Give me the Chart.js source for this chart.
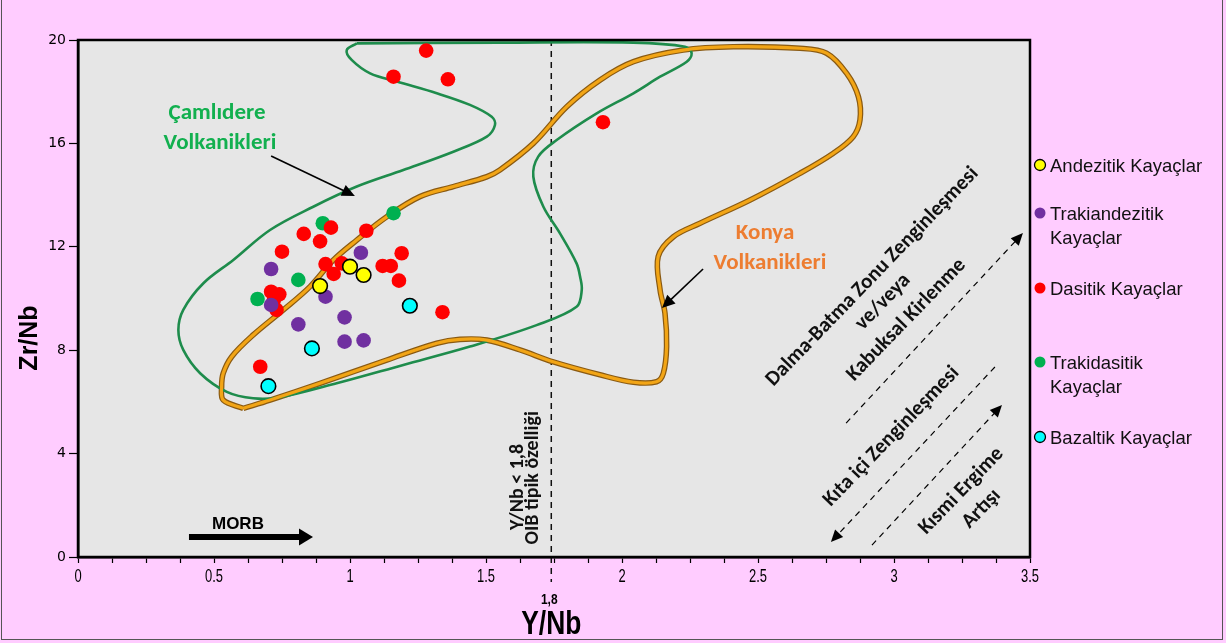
<!DOCTYPE html>
<html><head><meta charset="utf-8">
<style>
html,body{margin:0;padding:0;background:#FFCCFF;}
#wrap{position:relative;width:1226px;height:643px;overflow:hidden;}
#frame{position:absolute;left:1px;top:-3px;width:1222px;height:643px;border:1.5px solid #555;box-sizing:border-box;pointer-events:none;}
canvas{display:block;}
</style>
<script src="https://cdn.jsdelivr.net/npm/chart.js"></script>
</head><body>
<div id="wrap"><canvas id="c" width="1226" height="643"></canvas><div id="frame"></div></div>
<script>
// ---------------- DATA ----------------
const seriesNames = ['Andezitik Kayaçlar','Trakiandezitik Kayaçlar','Dasitik Kayaçlar','Trakidasitik Kayaçlar','Bazaltik Kayaçlar'];
const andezitikX = [1.00, 1.05, 0.89];
const andezitikY = [11.23, 10.91, 10.48];
const trakiandezitikX = [0.71, 1.04, 0.91, 0.98, 0.81, 0.98, 1.05, 0.71];
const trakiandezitikY = [11.14, 11.77, 10.07, 9.27, 9.00, 8.33, 8.38, 9.75];
const dasitikX = [0.93, 0.83, 0.89, 1.06, 0.75, 1.19, 0.91, 0.97, 0.94, 1.12, 1.15, 1.18, 0.71, 0.74, 0.72, 0.73, 1.34, 0.67, 1.28, 1.16, 1.36, 1.93];
const dasitikY = [12.74, 12.50, 12.21, 12.62, 11.81, 11.75, 11.33, 11.36, 10.95, 11.26, 11.26, 10.69, 10.26, 10.16, 9.94, 9.56, 9.47, 7.36, 19.59, 18.58, 18.48, 16.82];
const trakidasitikX = [0.90, 1.16, 0.81, 0.66];
const trakidasitikY = [12.91, 13.30, 10.72, 9.98];
const bazaltikX = [1.22, 0.86, 0.70];
const bazaltikY = [9.72, 8.07, 6.61];

// Çamlıdere Volkanikleri field outline
const camlidereX = [1.025,0.988,1.006,1.074,1.172,1.319,1.441,1.521,1.533,1.503,1.380,1.196,1.025,0.865,0.706,0.571,0.461,0.387,0.369,0.387,0.449,0.547,0.644,0.743,0.951,1.196,1.441,1.686,1.833,1.852,1.846,1.833,1.772,1.711,1.674,1.692,1.760,1.907,2.042,2.140,2.238,2.256,2.232,2.042,1.551,1.025];
const camlidereY = [19.87,19.61,19.23,18.71,18.39,17.94,17.49,17.03,16.71,16.26,15.68,14.97,14.33,13.55,12.65,11.49,10.59,9.56,8.78,8.01,7.11,6.39,6.14,6.18,6.72,7.43,8.14,8.97,9.68,10.33,10.84,11.36,12.52,13.55,14.71,15.49,16.13,17.16,17.94,18.58,19.16,19.49,19.74,19.90,19.90,19.87];
// Konya Volkanikleri field outline
const konyaX = [0.608,0.706,0.890,1.135,1.319,1.404,1.503,1.625,1.747,1.919,2.042,2.127,2.152,2.164,2.158,2.140,2.133,2.189,2.287,2.471,2.654,2.777,2.850,2.875,2.869,2.826,2.752,2.654,2.409,2.225,2.042,1.919,1.797,1.674,1.551,1.503,1.380,1.257,1.135,1.025,0.939,0.853,0.755,0.644,0.565,0.534,0.528,0.534,0.608];
const konyaY = [5.75,6.07,6.72,7.62,8.27,8.42,8.39,8.01,7.55,7.05,6.76,6.78,7.11,8.14,9.43,10.33,11.62,12.39,12.91,13.81,14.84,15.62,16.26,16.91,17.81,18.71,19.49,19.68,19.74,19.61,19.16,18.45,17.42,16.00,14.97,14.71,14.33,13.94,13.16,12.26,11.49,10.46,9.56,8.59,7.75,7.11,6.59,6.07,5.75];

const xTickLabels = ['0','0.5','1','1.5','2','2.5','3','3.5'];
const yTickLabels = ['0','4','8','12','16','20'];
const oibLimit = 1.74;      // dashed Y/Nb limit line (labelled "1,8")
const oibLimitLabel = '1,8';

// ---------------- helpers ----------------
const pts = (xs, ys) => xs.map((x, i) => ({x, y: ys[i]}));
const pointDs = (label, xs, ys, fill, border, order) => ({
  type:'scatter', label, data: pts(xs, ys), backgroundColor: fill,
  borderColor: border || fill, borderWidth: border ? 1.6 : 0,
  pointRadius: 7.3, pointHoverRadius: 7.3, order
});
const outlineDs = (label, xs, ys, color, width, order) => ({
  type:'scatter', label, data: pts(xs, ys), showLine: true, borderColor: color,
  borderWidth: width, pointRadius: 0, tension: 0.35, fill: false, order
});

const colors = ['#FFFF00','#7030A0','#FF0000','#00B050','#00FFFF'];
const borders = ['#000', null, null, null, '#000'];

const datasets = [
  pointDs(seriesNames[0], andezitikX, andezitikY, colors[0], borders[0], 0),
  pointDs(seriesNames[1], trakiandezitikX, trakiandezitikY, colors[1], null, 1),
  pointDs(seriesNames[2], dasitikX, dasitikY, colors[2], null, 1),
  pointDs(seriesNames[3], trakidasitikX, trakidasitikY, colors[3], null, 1),
  pointDs(seriesNames[4], bazaltikX, bazaltikY, colors[4], borders[4], 0),
  outlineDs('Çamlıdere Volkanikleri', camlidereX, camlidereY, '#1E8C4C', 2.6, 3),
  outlineDs('Konya Volkanikleri', konyaX, konyaY, '#F2A516', 3.2, 2),
  outlineDs('Konya Volkanikleri kenar', konyaX, konyaY, '#8A5A12', 5.6, 4)
];

// ---------------- annotations (layout) ----------------
const CAL = "Carlito, Lato, 'Liberation Sans', sans-serif";
const ARIAL = "'Liberation Sans', Arial, sans-serif";
const legendLayout = [
  {lines:['Andezitik Kayaçlar'], y:165},
  {lines:['Trakiandezitik','Kayaçlar'], y:213},
  {lines:['Dasitik Kayaçlar'], y:288},
  {lines:['Trakidasitik','Kayaçlar'], y:362},
  {lines:['Bazaltik Kayaçlar'], y:437}
];

function arrowHead(ctx, x1, y1, x2, y2, len, half) {
  const a = Math.atan2(y2 - y1, x2 - x1);
  ctx.beginPath();
  ctx.moveTo(x2, y2);
  ctx.lineTo(x2 - len*Math.cos(a) + half*Math.sin(a), y2 - len*Math.sin(a) - half*Math.cos(a));
  ctx.lineTo(x2 - len*Math.cos(a) - half*Math.sin(a), y2 - len*Math.sin(a) + half*Math.cos(a));
  ctx.closePath(); ctx.fill();
}
function arrow(ctx, x1, y1, x2, y2, opt) {
  const a = Math.atan2(y2 - y1, x2 - x1);
  ctx.save();
  ctx.strokeStyle = '#000'; ctx.fillStyle = '#000';
  ctx.lineWidth = opt.w; ctx.setLineDash(opt.dash || []);
  ctx.beginPath(); ctx.moveTo(x1, y1);
  ctx.lineTo(x2 - opt.len*0.8*Math.cos(a), y2 - opt.len*0.8*Math.sin(a)); ctx.stroke();
  ctx.setLineDash([]);
  arrowHead(ctx, x1, y1, x2, y2, opt.len, opt.half);
  ctx.restore();
}
function rotText(ctx, text, x, y, angleDeg, font, color, sx) {
  ctx.save(); ctx.translate(x, y); ctx.rotate(angleDeg*Math.PI/180);
  if (sx) ctx.scale(sx, 1);
  ctx.font = font; ctx.fillStyle = color; ctx.textAlign = 'center'; ctx.textBaseline = 'middle';
  ctx.fillText(text, 0, 0); ctx.restore();
}

const annot = {
  id: 'annot',
  beforeDraw(chart) {
    const {ctx, chartArea: a} = chart;
    ctx.save(); ctx.fillStyle = '#E6E6E6';
    ctx.fillRect(a.left, a.top, a.right - a.left, a.bottom - a.top); ctx.restore();
  },
  beforeDatasetsDraw(chart) {
    const {ctx, scales: {x, y}} = chart;
    const px = x.getPixelForValue(oibLimit);
    ctx.save(); ctx.strokeStyle = '#111'; ctx.lineWidth = 1.5; ctx.setLineDash([6, 5]);
    ctx.beginPath(); ctx.moveTo(px, y.getPixelForValue(20)); ctx.lineTo(px, y.getPixelForValue(-0.97)); ctx.stroke();
    ctx.restore();
  },
  afterDraw(chart) {
    const {ctx, chartArea: a, scales: {x, y}} = chart;
    const X = v => x.getPixelForValue(v), Y = v => y.getPixelForValue(v);
    // plot frame
    ctx.save(); ctx.strokeStyle = '#000'; ctx.lineWidth = 2.5;
    ctx.strokeRect(a.left, a.top, a.right - a.left, a.bottom - a.top); ctx.restore();

    // field labels
    ctx.save(); ctx.textAlign = 'center'; ctx.textBaseline = 'middle';
    ctx.font = 'bold 23px ' + CAL; ctx.fillStyle = '#12B04F';
    ctx.fillText('Çamlıdere', X(0.511), Y(17.18));
    ctx.fillText('Volkanikleri', X(0.522), Y(16.02));
    ctx.fillStyle = '#ED7D31';
    ctx.fillText('Konya', X(2.526), Y(12.53));
    ctx.fillText('Volkanikleri', X(2.544), Y(11.37));
    ctx.restore();
    arrow(ctx, X(0.710), Y(15.51), X(1.018), Y(13.97), {w: 1.6, len: 13, half: 6});
    arrow(ctx, X(2.298), Y(11.14), X(2.147), Y(9.63), {w: 1.6, len: 13, half: 6});

    // OIB vertical text
    rotText(ctx, 'Y/Nb < 1,8', X(1.618), Y(2.71), -90, 'bold 20px ' + CAL, '#111');
    rotText(ctx, 'OIB tipik özelliği', X(1.673), Y(3.06), -90, 'bold 20px ' + CAL, '#111');

    // diagonal process texts
    const dfont = 'bold 21px ' + CAL;
    rotText(ctx, 'Dalma-Batma Zonu Zenginleşmesi', X(2.921), Y(10.84), -46, dfont, '#111');
    rotText(ctx, 've/veya', X(2.960), Y(9.86), -46, dfont, '#111');
    rotText(ctx, 'Kabuksal Kirlenme', X(3.046), Y(9.17), -46, dfont, '#111');
    rotText(ctx, 'Kıta içi Zenginleşmesi', X(2.991), Y(4.66), -46, dfont, '#111');
    rotText(ctx, 'Kısmi Ergime', X(3.248), Y(2.55), -46, dfont, '#111');
    rotText(ctx, 'Artışı', X(3.322), Y(1.86), -46, dfont, '#111');
    arrow(ctx, X(2.824), Y(5.18), X(3.474), Y(12.53), {w: 1.2, len: 12, half: 5.5, dash: [6, 5]});
    arrow(ctx, X(3.371), Y(7.35), X(2.768), Y(0.58), {w: 1.2, len: 12, half: 5.5, dash: [6, 5]});
    arrow(ctx, X(2.919), Y(0.46), X(3.397), Y(5.88), {w: 1.2, len: 12, half: 5.5, dash: [6, 5]});

    // MORB arrow
    arrow(ctx, X(0.408), Y(0.77), X(0.864), Y(0.77), {w: 6, len: 14, half: 8.5});
    ctx.save(); ctx.font = 'bold 17px ' + ARIAL; ctx.fillStyle = '#000';
    ctx.textAlign = 'center'; ctx.textBaseline = 'middle';
    ctx.fillText('MORB', X(0.588), Y(1.28)); ctx.restore();

    // axis titles and the 1,8 label
    rotText(ctx, oibLimitLabel, X(oibLimit) - 2, Y(-1.66), 0, 'bold 15px ' + ARIAL, '#000', 0.8);
    rotText(ctx, 'Y/Nb', X(oibLimit), 625, 0, 'bold 33px ' + ARIAL, '#000', 0.8);
    rotText(ctx, 'Zr/Nb', 30, 338, -90, 'bold 25px ' + ARIAL, '#000');

    // legend
    ctx.save(); ctx.font = '18.5px ' + ARIAL; ctx.textBaseline = 'middle';
    legendLayout.forEach((it, i) => {
      ctx.beginPath(); ctx.arc(1040, it.y, 5.5, 0, Math.PI*2);
      ctx.fillStyle = colors[i]; ctx.fill();
      if (borders[i]) { ctx.strokeStyle = borders[i]; ctx.lineWidth = 1.3; ctx.stroke(); }
      ctx.fillStyle = '#111';
      it.lines.forEach((ln, j) => ctx.fillText(ln, 1050, it.y + 2 + j*24));
    });
    ctx.restore();

    // x tick labels drawn condensed, like the reference's narrow font
    xTickLabels.forEach((t, k) => rotText(ctx, t, X(k*0.5), a.bottom + 20, 0, '18px ' + ARIAL, '#000', 0.72));
  }
};

new Chart(document.getElementById('c'), {
  type: 'scatter',
  data: { datasets },
  options: {
    responsive: false, animation: false, events: [],
    layout: { padding: {left: 0, top: 40, right: 196, bottom: 0}, autoPadding: false },
    plugins: { legend: {display: false}, tooltip: {enabled: false} },
    scales: {
      x: {
        type: 'linear', min: 0, max: 3.5,
        afterFit: s => { s.height = 86; },
        ticks: {
          stepSize: 0.125, autoSkip: false, maxRotation: 0, padding: 5, color: 'rgba(0,0,0,0)',
          font: {family: ARIAL, size: 15},
          callback: v => { const k = Math.round(v / 0.5); return Math.abs(v/0.5 - k) < 1e-6 ? xTickLabels[k] : ''; }
        },
        grid: { drawOnChartArea: false, drawTicks: true, tickLength: 6, color: '#000', tickWidth: 1.2 },
        border: { display: true, color: '#000', width: 2.5 }
      },
      y: {
        type: 'linear', min: 0, max: 20,
        afterFit: s => { s.width = 78; },
        ticks: {
          stepSize: 4, padding: 3, color: '#000', font: {family: "'DejaVu Sans', Verdana, sans-serif", size: 14},
          callback: v => yTickLabels[Math.round(v / 4)]
        },
        grid: { drawOnChartArea: false, drawTicks: true, tickLength: 9, color: '#000', tickWidth: 1.2 },
        border: { display: true, color: '#000', width: 2.5 }
      }
    }
  },
  plugins: [annot]
});
</script>
</body></html>
